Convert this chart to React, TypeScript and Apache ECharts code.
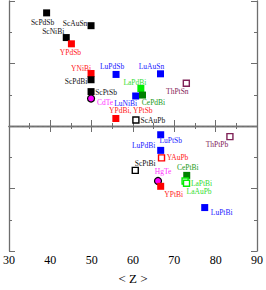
import React, { useEffect, useRef } from "react";
import * as echarts from "echarts";

// compounds, average atomic number <Z>, vertical quantity (arbitrary units)
const names = [
  "ScPdSb", "ScAuSn", "ScNiBi", "YPdSb", "YNiBi", "ScPdBi", "LuPdSb", "ScPtSb", "CdTe",
  "LuNiBi", "LaPdBi", "CePdBi", "LuAuSn", "ThPtSn", "YPdBi, YPtSb", "ScAuPb",
  "LuPtSb", "LuPdBi", "YAuPb", "ScPtBi", "HgTe", "YPtBi", "CePtBi", "LaAuPb", "LaPtBi",
  "ThPtPb", "LuPtBi",
];
const zValues = [
  39.1, 49.85, 43.85, 45.1, 49.85, 49.85, 55.9, 49.85, 49.85,
  60.65, 61.9, 62.3, 66.65, 72.9, 55.85, 60.7,
  66.7, 66.7, 66.9, 60.55, 66.05, 66.7, 73.0, 72.6, 72.95,
  83.45, 77.35,
];
const yValues = [
  3.62, 3.21, 2.83, 2.63, 1.68, 1.48, 1.65, 1.10, 0.88,
  0.96, 1.20, 0.99, 1.67, 1.37, 0.24, 0.19,
  -0.28, -0.78, -1.02, -1.42, -1.76, -1.93, -1.58, -1.76, -1.83,
  -0.34, -2.61,
];
// marker kind: f = filled square, h = hollow square, c = circle
const kinds = [
  "f", "f", "f", "f", "f", "f", "f", "f", "c",
  "f", "f", "f", "f", "h", "f", "h",
  "f", "f", "h", "h", "c", "f", "f", "h", "h",
  "h", "f",
];
const colorKeys = [
  "k", "k", "k", "r", "r", "k", "b", "k", "m",
  "b", "lg", "dg", "b", "p", "r", "k",
  "b", "b", "r", "k", "m", "r", "dg", "lg", "lg",
  "p", "b",
];
const xTicks = [30, 40, 50, 60, 70, 80, 90];

// styling / layout (not data)
const markerColors: Record<string, string> = {
  k: "#000000", r: "#ff0000", b: "#0000ff", m: "#ff00ff",
  lg: "#00ee00", dg: "#008000", p: "#7f2257",
};
const labelColors: Record<string, string> = {
  k: "#111111", r: "#ff2020", b: "#2020ff", m: "#ff30ff",
  lg: "#30dd30", dg: "#209a20", p: "#7f2257",
};
const labelOffsets: Record<string, [number, number]> = {
  ScPdSb: [-4, 10], ScAuSn: [-16, -2], ScNiBi: [-13, -6], YPdSb: [-1, 9],
  YNiBi: [-10, -5], ScPdBi: [-15, 2], LuPdSb: [-4, -8], ScPtSb: [15, 1],
  CdTe: [14, 4], LuNiBi: [-10, 7], LaPdBi: [-6, -6], CePdBi: [11, 7],
  LuAuSn: [-9, -7], ThPtSn: [-9, 8], "YPdBi, YPtSb": [15, -8], ScAuPb: [17, 0],
  LuPtSb: [10, 6], LuPdBi: [-17, -5], YAuPb: [16, 0], ScPtBi: [10, -7],
  HgTe: [5, -10], YPtBi: [13, 8], CePtBi: [1, -8], LaPtBi: [15, 0],
  LaAuPb: [14, 10], ThPtPb: [-13, 8], LuPtBi: [17, 5],
};

export default function App() {
  const ref = useRef<HTMLDivElement>(null);
  useEffect(() => {
    document.body.style.margin = "0";
    if (!ref.current) return;
    const chart = echarts.init(ref.current, null, { renderer: "svg" });
    const font = "'Liberation Serif', 'DejaVu Serif', serif";
    const axisLine = { show: true, lineStyle: { color: "#6e6e6e", width: 1.3 } };
    const tick = { show: true, inside: true, length: 6, lineStyle: { color: "#6e6e6e" } };
    const minor = { show: true, splitNumber: 2, length: 3, lineStyle: { color: "#6e6e6e" } };
    const data = names.map((n, i) => {
      const c = markerColors[colorKeys[i]];
      const k = kinds[i];
      return {
        name: n,
        value: [zValues[i], yValues[i]],
        symbol: k === "c" ? "circle" : "rect",
        symbolSize: k === "h" ? 6 : 7,
        itemStyle:
          k === "f"
            ? { color: c, borderWidth: 0, opacity: 1 }
            : k === "h"
            ? { color: "#ffffff", borderColor: c, borderWidth: 1.4, opacity: 1 }
            : { color: c, borderColor: "#000000", borderWidth: 1.2, opacity: 1 },
        label: {
          show: true,
          formatter: n,
          position: "inside",
          offset: labelOffsets[n] || [0, 0],
          color: labelColors[colorKeys[i]],
          fontFamily: font,
          fontSize: 7.5,
          align: "center",
          verticalAlign: "middle",
        },
      };
    });
    chart.setOption({
      animation: false,
      grid: { left: 8, right: 8, top: 1, bottom: 37 },
      xAxis: [
        {
          type: "value",
          min: xTicks[0],
          max: xTicks[xTicks.length - 1],
          interval: 10,
          axisLine,
          axisTick: tick,
          minorTick: minor,
          splitLine: { show: false },
          axisLabel: { color: "#000", fontFamily: font, fontSize: 12, margin: 3 },
          name: "< Z >",
          nameLocation: "middle",
          nameGap: 21,
          nameTextStyle: { color: "#000", fontFamily: font, fontSize: 13 },
        },
        {
          type: "value",
          position: "top",
          min: xTicks[0],
          max: xTicks[xTicks.length - 1],
          interval: 10,
          axisLine,
          axisTick: tick,
          minorTick: minor,
          splitLine: { show: false },
          axisLabel: { show: false },
        },
      ],
      yAxis: [
        {
          type: "value",
          min: -4,
          max: 4,
          interval: 2,
          axisLine,
          axisTick: tick,
          minorTick: minor,
          splitLine: { show: false },
          axisLabel: { show: false },
        },
        {
          type: "value",
          position: "right",
          min: -4,
          max: 4,
          interval: 2,
          axisLine,
          axisTick: tick,
          minorTick: minor,
          splitLine: { show: false },
          axisLabel: { show: false },
        },
      ],
      series: [
        {
          type: "scatter",
          xAxisIndex: 0,
          yAxisIndex: 0,
          data,
          markLine: {
            silent: true,
            symbol: "none",
            label: { show: false },
            lineStyle: { color: "#777777", type: [3, 2], width: 1.2 },
            data: [{ yAxis: 0 }],
          },
        },
      ],
    });
    return () => chart.dispose();
  }, []);
  return <div ref={ref} style={{ width: 266, height: 290 }} />;
}
